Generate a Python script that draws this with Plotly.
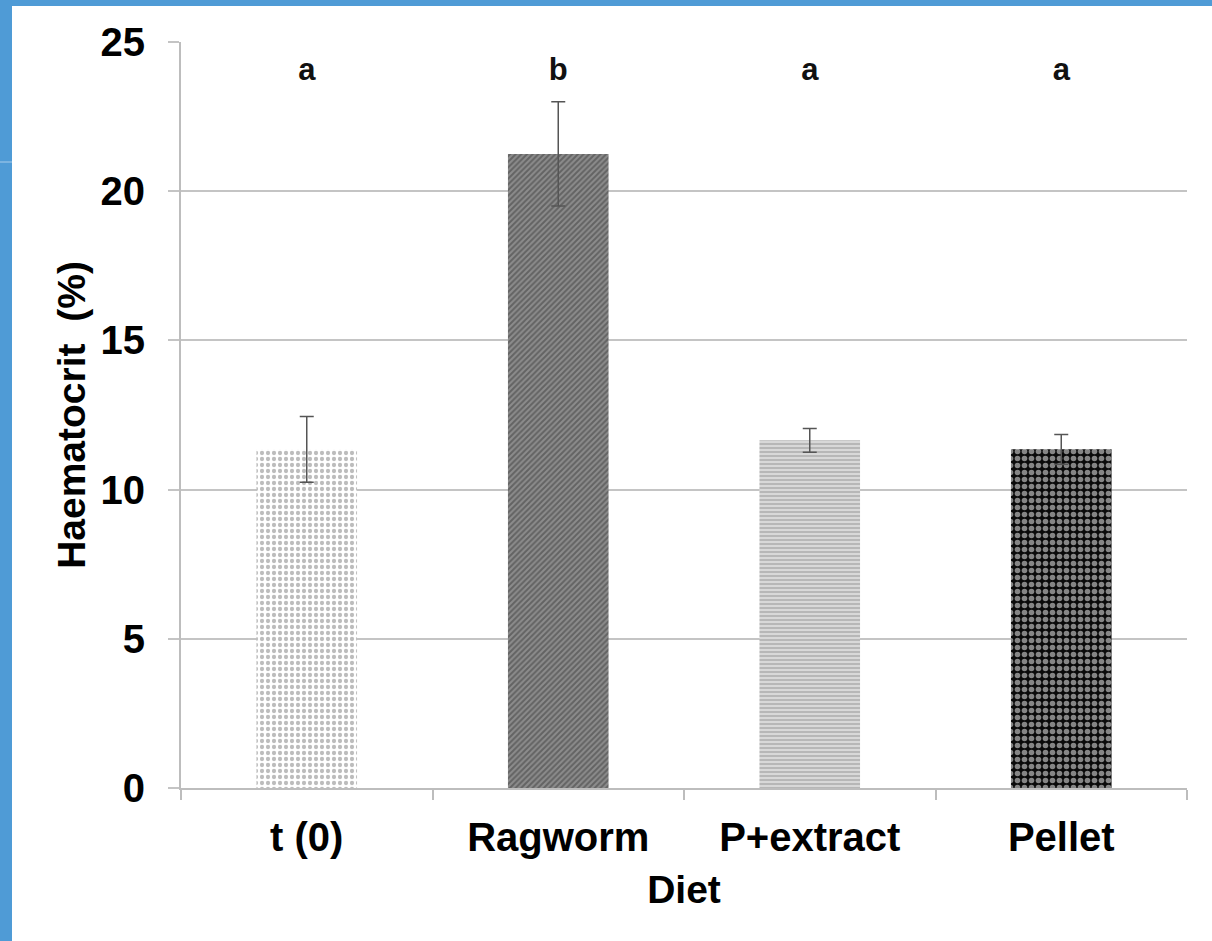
import plotly.graph_objects as go

# Haematocrit by diet
diets = ["t (0)", "Ragworm", "P+extract", "Pellet"]
haematocrit = [11.35, 21.25, 11.65, 11.35]
sd = [1.1, 1.75, 0.4, 0.5]
letters = ["a", "b", "a", "a"]
letter_y = [24, 24, 24, 24]

patterns = [
    dict(shape=".", fgcolor="#7a7a7a", bgcolor="#ffffff", size=6, solidity=0.4, fillmode="overlay"),
    dict(shape="/", fgcolor="#3a3a3a", bgcolor="#8c8c8c", size=4, solidity=0.5, fillmode="overlay"),
    dict(shape="-", fgcolor="#8f8f8f", bgcolor="#d8d8d8", size=4, solidity=0.45, fillmode="overlay"),
    dict(shape=".", fgcolor="#ffffff", bgcolor="#0a0a0a", size=7, solidity=0.5, fillmode="overlay"),
]

fig = go.Figure()
for i, d in enumerate(diets):
    fig.add_trace(go.Bar(
        x=[d], y=[haematocrit[i]],
        width=0.4,
        marker=dict(color="#ffffff", pattern=patterns[i], line=dict(width=0)),
        error_y=dict(type="data", array=[sd[i]], visible=True,
                     color="#555555", thickness=1.5, width=7),
        showlegend=False,
    ))

fig.add_trace(go.Scatter(
    x=diets, y=letter_y, mode="text", text=[f"<b>{t}</b>" for t in letters],
    textfont=dict(family="Liberation Sans", size=31, color="#111111"),
    showlegend=False, hoverinfo="skip",
))

font_bold = "Liberation Sans"

fig.update_layout(
    width=1212, height=941,
    margin=dict(l=181, r=25, t=42, b=153),
    paper_bgcolor="#ffffff", plot_bgcolor="#ffffff",
    bargap=0.6,
    font=dict(family=font_bold, color="#000000"),
    shapes=[
        # frame strips along the left and top edges
        dict(type="rect", xref="paper", yref="paper",
             x0=-181 / 1006, x1=(12 - 181) / 1006, y0=-153 / 746, y1=(746 + 42) / 746,
             fillcolor="#4f9bd6", line=dict(width=0), layer="below"),
        dict(type="rect", xref="paper", yref="paper",
             x0=-181 / 1006, x1=(1212 - 181) / 1006, y0=(746 + 42 - 6) / 746, y1=(746 + 42) / 746,
             fillcolor="#4f9bd6", line=dict(width=0), layer="below"),
        dict(type="line", xref="paper", yref="paper",
             x0=-181 / 1006, x1=(12 - 181) / 1006, y0=(788 - 162) / 746, y1=(788 - 162) / 746,
             line=dict(color="#a9cdec", width=1)),
    ],
)

fig.update_xaxes(
    showline=True, linecolor="#bdbdbd", linewidth=2,
    ticks="outside", tickson="boundaries", ticklen=10, tickcolor="#bdbdbd", tickwidth=2,
    tickfont=dict(family=font_bold, size=40, color="#000000", weight="bold"),
    ticklabelstandoff=13,
    title=dict(text="<b>Diet</b>", font=dict(family=font_bold, size=39, color="#000000"), standoff=18),
)

fig.update_yaxes(
    range=[0, 25], tickvals=[0, 5, 10, 15, 20, 25],
    showline=True, linecolor="#bdbdbd", linewidth=2,
    showgrid=True, gridcolor="#c4c4c4", gridwidth=2,
    ticks="outside", ticklen=11, tickcolor="#c4c4c4", tickwidth=2,
    tickfont=dict(family=font_bold, size=40, color="#000000", weight="bold"),
    ticklabelstandoff=15,
    zeroline=False,
    title=dict(text="<b>Haematocrit  (%)</b>", font=dict(family=font_bold, size=39, color="#000000"), standoff=3),
)

fig.write_html("out.html")
